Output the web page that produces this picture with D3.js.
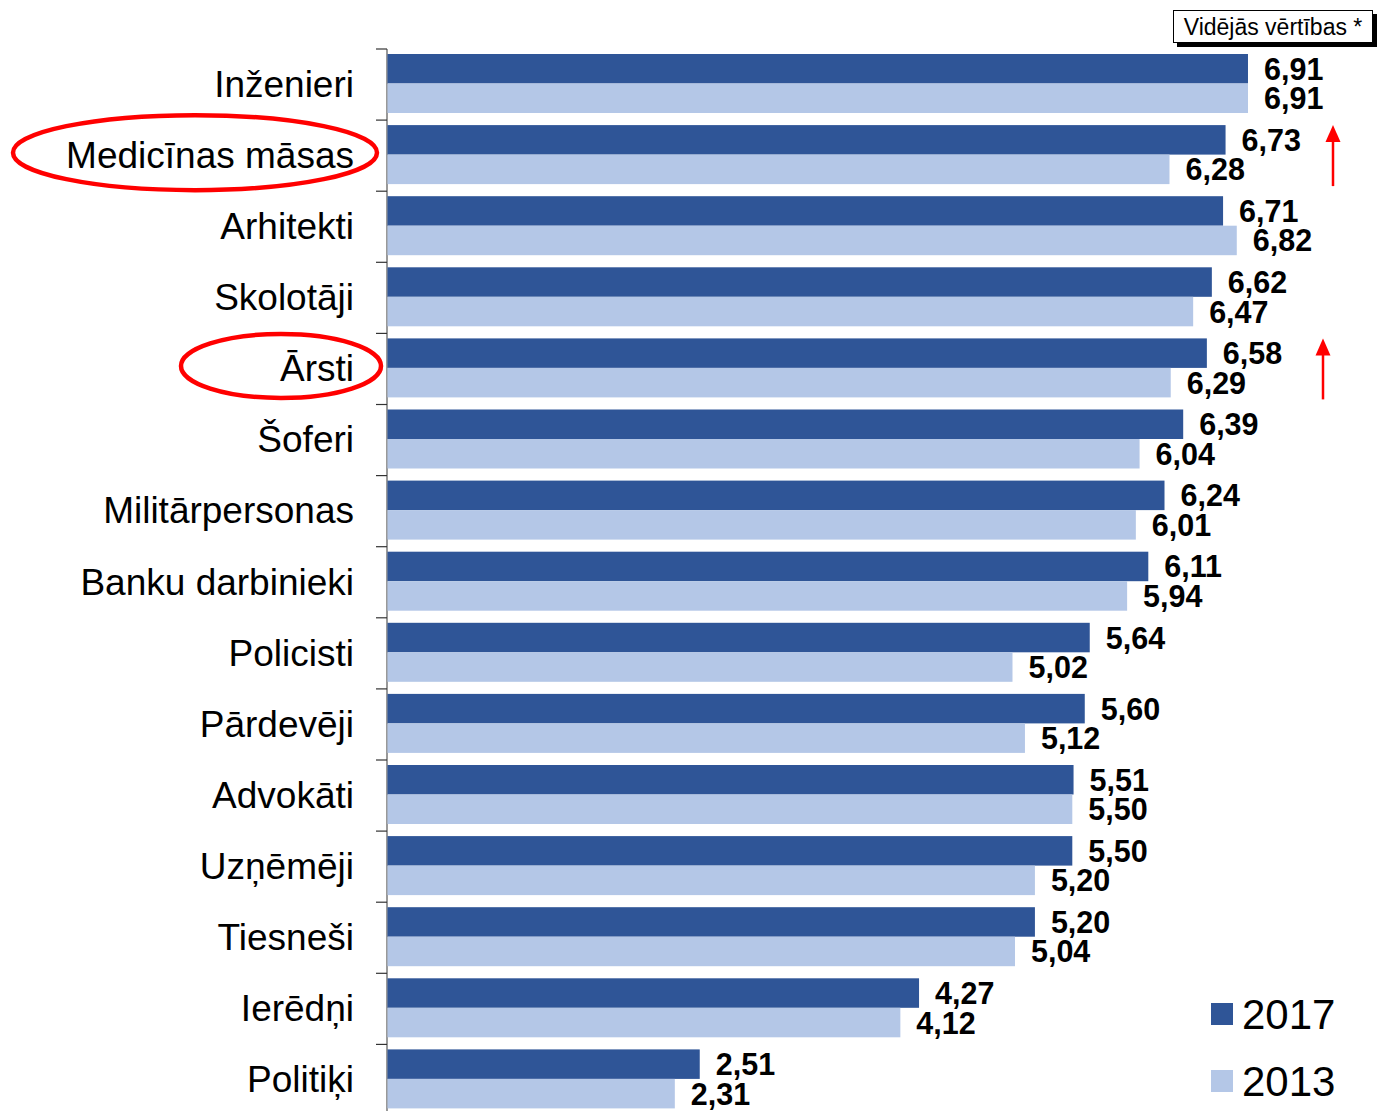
<!DOCTYPE html>
<html>
<head>
<meta charset="utf-8">
<script src="https://cdn.jsdelivr.net/npm/d3@7"></script>
<style>
  body { margin: 0; background: #fff; }
  svg text { font-family: "Liberation Sans", Arial, sans-serif; }
</style>
</head>
<body>
<svg id="chart" width="1378" height="1111"></svg>
<script>
  // data
  var categories = ["Inženieri", "Medicīnas māsas", "Arhitekti", "Skolotāji", "Ārsti", "Šoferi",
    "Militārpersonas", "Banku darbinieki", "Policisti", "Pārdevēji", "Advokāti", "Uzņēmēji",
    "Tiesneši", "Ierēdņi", "Politiķi"];
  var values2017 = [6.91, 6.73, 6.71, 6.62, 6.58, 6.39, 6.24, 6.11, 5.64, 5.60, 5.51, 5.50, 5.20, 4.27, 2.51];
  var values2013 = [6.91, 6.28, 6.82, 6.47, 6.29, 6.04, 6.01, 5.94, 5.02, 5.12, 5.50, 5.20, 5.04, 4.12, 2.31];
  var seriesNames = ["2017", "2013"];
  var highlighted = ["Medicīnas māsas", "Ārsti"];
  var risen = ["Medicīnas māsas", "Ārsti"];

  var colors = {"2017": "#2f5597", "2013": "#b4c7e7"};

  var svg = d3.select("#chart");

  var x = d3.scaleLinear().domain([0, 7.5]).range([387, 387 + 7.5 * 124.6]);
  var y = d3.scaleBand().domain(categories).range([49, 1115.5]);
  var ySub = d3.scaleBand().domain(seriesNames).range([5, 64]);

  var fmt = d3.formatLocale({decimal: ",", thousands: " ", grouping: [3], currency: ["", ""]}).format(".2f");

  var rows = categories.map(function(c, i) {
    return {cat: c, vals: [{s: "2017", v: values2017[i]}, {s: "2013", v: values2013[i]}]};
  });

  // axis line + ticks
  svg.append("line")
    .attr("x1", x(0)).attr("x2", x(0))
    .attr("y1", y.range()[0]).attr("y2", 1111)
    .attr("stroke", "#555").attr("stroke-width", 1.2);

  svg.selectAll(".tick")
    .data(categories)
    .enter()
    .append("line")
    .attr("x1", x(0) - 11).attr("x2", x(0))
    .attr("y1", function(d) { return y(d); })
    .attr("y2", function(d) { return y(d); })
    .attr("stroke", "#333").attr("stroke-width", 1.2);

  var g = svg.selectAll(".row")
    .data(rows)
    .enter()
    .append("g")
    .attr("transform", function(d) { return "translate(0," + y(d.cat) + ")"; });

  g.selectAll("rect")
    .data(function(d) { return d.vals; })
    .enter()
    .append("rect")
    .attr("x", x(0) + 0.5)
    .attr("y", function(d) { return ySub(d.s); })
    .attr("width", function(d) { return x(d.v) - x(0) - 0.5; })
    .attr("height", ySub.bandwidth())
    .attr("fill", function(d) { return colors[d.s]; });

  g.selectAll(".val")
    .data(function(d) { return d.vals; })
    .enter()
    .append("text")
    .attr("x", function(d) { return x(d.v) + 16; })
    .attr("y", function(d) { return ySub(d.s) + ySub.bandwidth() / 2; })
    .attr("dy", "0.36em")
    .attr("font-size", 30.5)
    .attr("font-weight", "bold")
    .attr("fill", "#000")
    .text(function(d) { return fmt(d.v); });

  // category labels
  g.append("text")
    .attr("x", 354)
    .attr("y", y.bandwidth() / 2 - 1)
    .attr("dy", "0.36em")
    .attr("text-anchor", "end")
    .attr("font-size", 37)
    .attr("fill", "#000")
    .text(function(d) { return d.cat; });

  // red ellipses around highlighted labels
  var ellipseSize = {"Medicīnas māsas": [195, 182, 37.5], "Ārsti": [281, 100, 32]};
  highlighted.forEach(function(c) {
    var e = ellipseSize[c];
    svg.append("ellipse")
      .attr("cx", e[0]).attr("cy", y(c) + y.bandwidth() / 2 - 3)
      .attr("rx", e[1]).attr("ry", e[2])
      .attr("fill", "none").attr("stroke", "#f00").attr("stroke-width", 4.5);
  });

  // red arrows for growth
  var arrowX = {"Medicīnas māsas": 1333, "Ārsti": 1323};
  risen.forEach(function(c) {
    var ax = arrowX[c], top = y(c) + 5, bottom = y(c) + 66;
    svg.append("line")
      .attr("x1", ax).attr("x2", ax)
      .attr("y1", top + 14).attr("y2", bottom)
      .attr("stroke", "#f00").attr("stroke-width", 2.5);
    svg.append("path")
      .attr("d", "M" + ax + "," + top + "L" + (ax + 7.5) + "," + (top + 17) + "L" + (ax - 7.5) + "," + (top + 17) + "Z")
      .attr("fill", "#f00");
  });

  // legend
  var legend = svg.selectAll(".legend")
    .data(seriesNames)
    .enter()
    .append("g")
    .attr("transform", function(d, i) { return "translate(1211," + (1003 + i * 67) + ")"; });

  legend.append("rect")
    .attr("width", 22).attr("height", 22)
    .attr("fill", function(d) { return colors[d]; });

  legend.append("text")
    .attr("x", 31).attr("y", 11)
    .attr("dy", "0.36em")
    .attr("font-size", 42)
    .text(function(d) { return d; });

  // note box
  svg.append("rect")
    .attr("x", 1177).attr("y", 14).attr("width", 200).attr("height", 33)
    .attr("fill", "#000");
  svg.append("rect")
    .attr("x", 1173.5).attr("y", 10.5).attr("width", 199).attr("height", 32)
    .attr("fill", "#fff").attr("stroke", "#000").attr("stroke-width", 1);
  svg.append("text")
    .attr("x", 1273).attr("y", 27)
    .attr("dy", "0.36em")
    .attr("text-anchor", "middle")
    .attr("font-size", 23)
    .text("Vidējās vērtības *");
</script>
</body>
</html>
